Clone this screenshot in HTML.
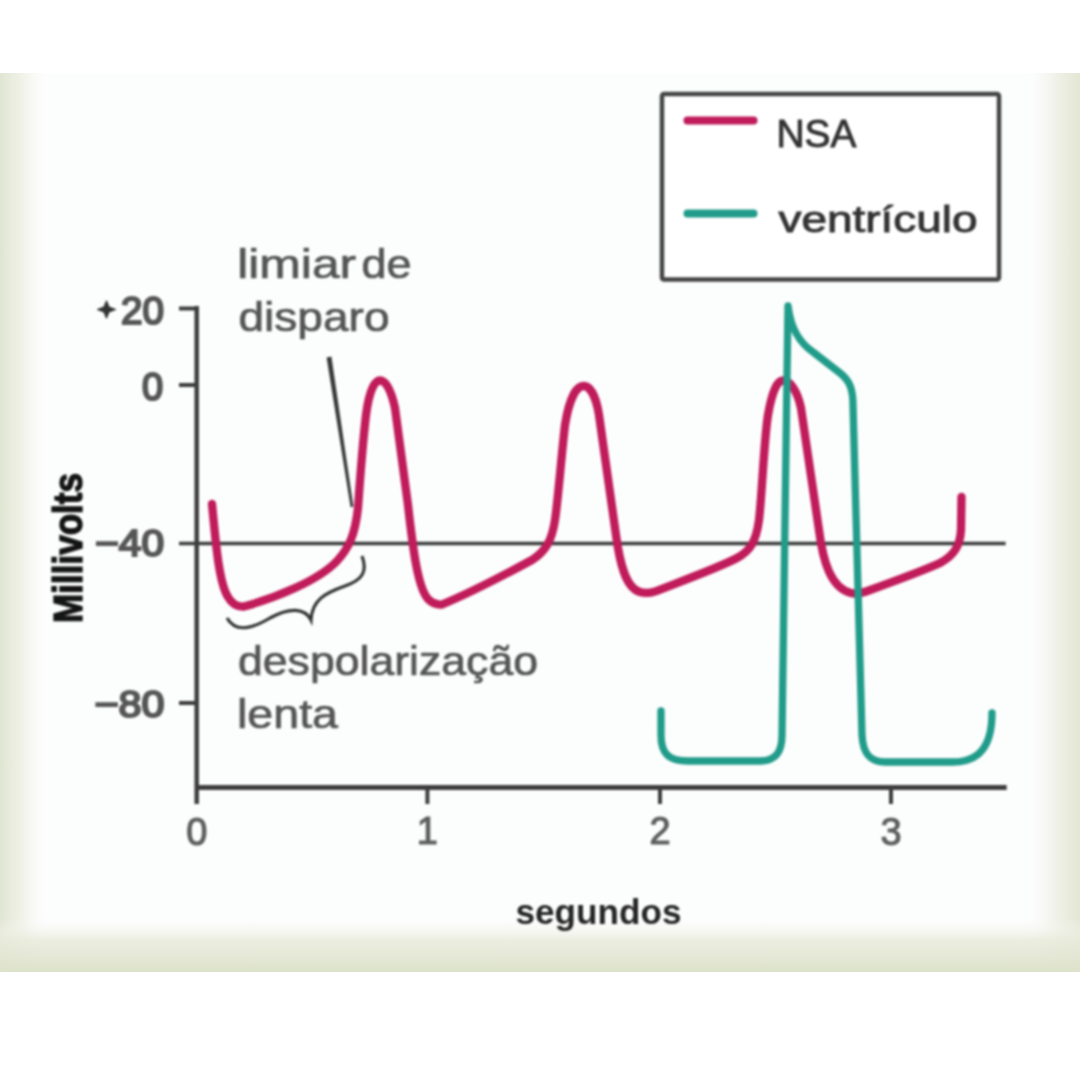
<!DOCTYPE html>
<html><head><meta charset="utf-8"><style>
html,body{margin:0;padding:0;background:#fff;}
body{width:1080px;height:1080px;overflow:hidden;position:relative;font-family:"Liberation Sans",sans-serif;}
svg{position:absolute;left:0;top:0;}
</style></head><body>
<svg width="1080" height="1080" viewBox="0 0 1080 1080">
<defs>
<linearGradient id="gl" x1="0" x2="1" y1="0" y2="0">
<stop offset="0" stop-color="#e0e5d1"/><stop offset="0.5" stop-color="#eeefe4" stop-opacity="0.8"/><stop offset="1" stop-color="#fafbf8" stop-opacity="0"/></linearGradient>
<linearGradient id="gr" x1="1" x2="0" y1="0" y2="0">
<stop offset="0" stop-color="#e2e6d3"/><stop offset="0.5" stop-color="#eeefe4" stop-opacity="0.8"/><stop offset="1" stop-color="#fafbf8" stop-opacity="0"/></linearGradient>
<linearGradient id="gb" x1="0" x2="0" y1="1" y2="0">
<stop offset="0" stop-color="#dde2ca"/><stop offset="0.6" stop-color="#e9ebdc" stop-opacity="0.85"/><stop offset="1" stop-color="#fafbf8" stop-opacity="0"/></linearGradient>
</defs>
<rect x="0" y="0" width="1080" height="1080" fill="#ffffff"/>
<rect x="0" y="73" width="1080" height="899" fill="#fcfdfd"/>
<rect x="0" y="73" width="46" height="899" fill="url(#gl)"/>
<rect x="1028" y="73" width="52" height="899" fill="url(#gr)"/>
<rect x="0" y="918" width="1080" height="54" fill="url(#gb)"/>

</svg>
<div style="position:absolute;left:0;top:0;width:1080px;height:1080px;filter:blur(1px)">
<svg width="1080" height="1080" viewBox="0 0 1080 1080">

<!-- legend -->
<rect x="662" y="94" width="337" height="185.5" rx="2" fill="#ffffff" stroke="#444" stroke-width="4.5"/>
<line x1="687.5" y1="120.5" x2="753.5" y2="120.5" stroke="#c01b5a" stroke-width="8" stroke-linecap="round"/>
<line x1="687.5" y1="213.5" x2="753.5" y2="213.5" stroke="#219c8a" stroke-width="8" stroke-linecap="round"/>
<text x="776.5" y="147" font-size="38" fill="#333" stroke="#333" stroke-width="0.9" textLength="80" lengthAdjust="spacingAndGlyphs">NSA</text>
<text x="778.5" y="231.5" font-size="37" fill="#333" stroke="#333" stroke-width="0.9" textLength="199" lengthAdjust="spacingAndGlyphs">ventrículo</text>

<!-- axes -->
<g stroke="#3d3d3d" fill="none">
<line x1="196.7" y1="306" x2="196.7" y2="804" stroke-width="4.5"/>
<line x1="179" y1="308.5" x2="199" y2="308.5" stroke-width="4"/>
<line x1="179" y1="385" x2="197" y2="385" stroke-width="4"/>
<line x1="179" y1="703" x2="197" y2="703" stroke-width="4"/>
<line x1="179" y1="543.5" x2="1005.6" y2="543.5" stroke-width="3.5"/>
<line x1="196.7" y1="787.5" x2="1006.7" y2="787.5" stroke-width="5"/>
<line x1="427.4" y1="787" x2="427.4" y2="804" stroke-width="4"/>
<line x1="660" y1="787" x2="660" y2="804" stroke-width="4"/>
<line x1="891" y1="787" x2="891" y2="804" stroke-width="4"/>
</g>

<!-- y labels -->
<g fill="#565656" stroke="#565656" stroke-width="2.2" paint-order="stroke">
<text x="121" y="323.5" font-size="39" textLength="43" lengthAdjust="spacingAndGlyphs">20</text>
<text x="142" y="399.5" font-size="38">0</text>
<text x="95" y="555.5" font-size="37" textLength="69" lengthAdjust="spacingAndGlyphs">−40</text>
<text x="94.5" y="716.5" font-size="37" textLength="70" lengthAdjust="spacingAndGlyphs">−80</text>
</g>
<polygon points="97.5,309.5 104,307 106.5,301 109,307 115.5,309.5 109,312 106.5,318 104,312" fill="#333" stroke="#333" stroke-width="1.2" stroke-linejoin="round"/>
<g fill="#5e5e5e" stroke="#5e5e5e" stroke-width="1.2" paint-order="stroke" text-anchor="middle">
<text x="196.7" y="844.5" font-size="38">0</text>
<text x="427.4" y="844" font-size="38">1</text>
<text x="660" y="844" font-size="38">2</text>
<text x="891" y="845" font-size="38">3</text>
</g>
<text x="0" y="0" font-size="41" font-weight="bold" fill="#141414" stroke="#141414" stroke-width="1.4" transform="translate(82,623) rotate(-90)" textLength="150" lengthAdjust="spacingAndGlyphs">Millivolts</text>
<text x="515.5" y="923.5" font-size="35" font-weight="bold" fill="#262626" textLength="166" lengthAdjust="spacingAndGlyphs">segundos</text>

<!-- annotations -->
<g fill="#555" stroke="#555" stroke-width="0.7">
<text x="237.2" y="277.5" font-size="40" textLength="119" lengthAdjust="spacingAndGlyphs">limiar</text>
<text x="361.4" y="277.5" font-size="40" textLength="50" lengthAdjust="spacingAndGlyphs">de</text>
<text x="238.5" y="331" font-size="40" textLength="151" lengthAdjust="spacingAndGlyphs">disparo</text>
<text x="238" y="675" font-size="40" textLength="300" lengthAdjust="spacingAndGlyphs">despolarização</text>
<text x="237" y="727.5" font-size="40" textLength="101" lengthAdjust="spacingAndGlyphs">lenta</text>
</g>
<polygon points="326.6,357.4 331.4,356.6 353.4,506.8 350.6,507.2" fill="#383838"/>
<path d="M 362 556 C 368 572 362 580 345 586 C 325 593 312 600 311 620 C 305 608 290 607 270 618 C 250 630 235 632 227 618" fill="none" stroke="#333" stroke-width="3.2"/>

<!-- curves -->
<path d="M 212 504 C 216 545 219 583 228 597 C 232 604 237 607 244 606.5 C 275 598 318 581 337 561 C 349 548 355 535 358 508 C 360 480 362 450 366 415 C 369 392 374 380.5 380 380.5 C 386 380.5 391 390 395 408 L 408 505 C 413 550 418 588 428 599 C 432 603 436 605 442 604.5 C 470 593 508 573 532 560 C 546 551 552 540 555 520 C 558 500 561 460 565 425 C 569 400 576 386 583.5 386 C 590 386 596 396 599 415 L 616 535 C 620 565 626 588 640 592 C 645 593.5 650 593 655 591.5 C 690 578 720 567 737 558 C 750 551 756 542 759 520 C 762 495 764 440 768 415 C 772 392 777 380.5 783 380.5 C 790 380.5 797 390 801 408 L 819 530 C 823 562 831 588 851 593 C 855 594 860 593.5 866 591.5 C 895 581 925 570 940 563 C 953 556 960 547 961 530 L 961.5 497" fill="none" stroke="#c01b5a" stroke-width="8.3" stroke-linejoin="round" stroke-linecap="round"/>
<path d="M 661 711 L 661 735 C 661 755 670 761 688 761 L 760 761 C 776 761 782 752 782 735 L 788 306 C 791 330 800 343 813 352 L 840 373 C 849 380 853 388 853 405 L 862 735 C 863 754 870 762 885 762 L 953 762 C 980 762 992 745 992 713" fill="none" stroke="#219c8a" stroke-width="7.3" stroke-linejoin="round" stroke-linecap="round"/>
</svg>
</div>
</body></html>
